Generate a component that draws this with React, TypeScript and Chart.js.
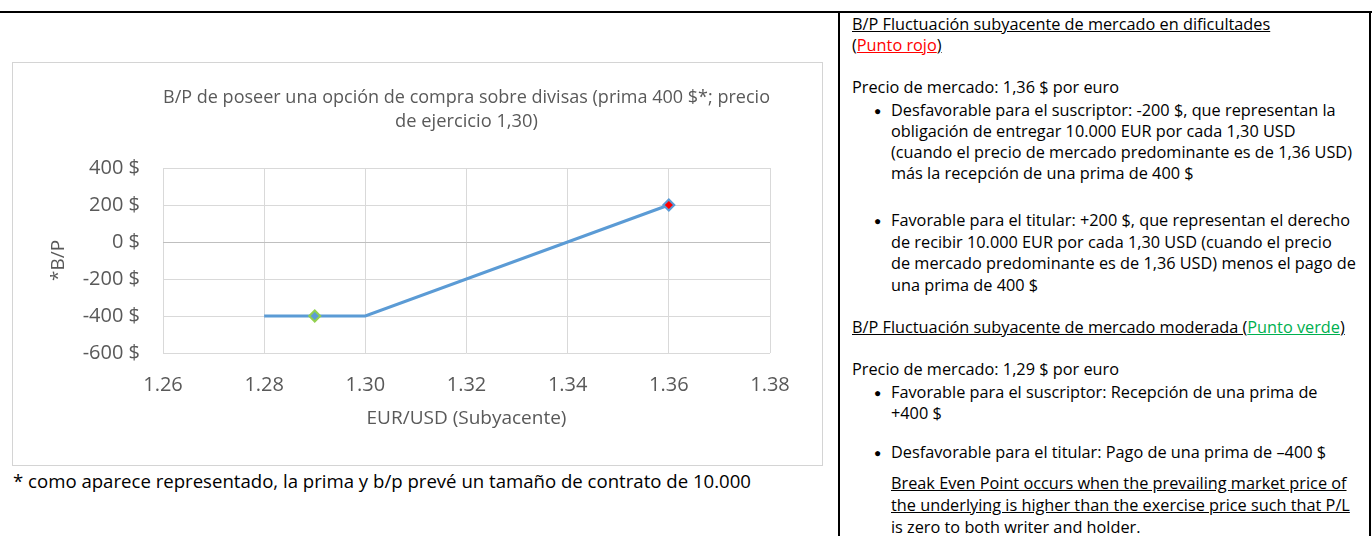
import React, { useEffect, useRef } from "react";
import { Chart, registerables } from "chart.js";

Chart.register(...registerables);

// ---- chart data ----
const underlyingPrices = [1.28, 1.29, 1.3, 1.36];
const profitLoss = [-400, -400, -400, 200];
const greenPointPrice = 1.29;
const redPointPrice = 1.36;
const xMin = 1.26;
const xMax = 1.38;
const xStep = 0.02;
const yMin = -600;
const yMax = 400;
const yStep = 200;
const chartTitle = [
  "B/P de poseer una opción de compra sobre divisas (prima 400 $*; precio",
  "de ejercicio 1,30)",
];
const xAxisTitle = "EUR/USD (Subyacente)";
const yAxisTitle = "*B/P";

const FONT = "'Open Sans', sans-serif";

function ChartBox() {
  const ref = useRef<HTMLCanvasElement | null>(null);
  useEffect(() => {
    if (!ref.current) return;
    const chart = new Chart(ref.current, {
      type: "line",
      data: {
        datasets: [
          {
            data: underlyingPrices.map((x, i) => ({ x, y: profitLoss[i] })),
            borderColor: "#5b9bd5",
            borderWidth: 3,
            tension: 0,
            fill: false,
            pointStyle: "rectRot",
            pointRadius: (ctx: any) => {
              const x = ctx.raw?.x;
              return x === greenPointPrice || x === redPointPrice ? 5.5 : 0;
            },
            pointHoverRadius: 0,
            pointBackgroundColor: (ctx: any) =>
              ctx.raw?.x === redPointPrice ? "#ff0000" : "#5b9bd5",
            pointBorderColor: (ctx: any) =>
              ctx.raw?.x === greenPointPrice ? "#92d050" : "#5b9bd5",
            pointBorderWidth: 2,
          },
        ],
      },
      options: {
        animation: false,
        responsive: false,
        maintainAspectRatio: false,
        layout: { padding: { left: 0, right: 51, top: 0, bottom: 0 } },
        plugins: {
          legend: { display: false },
          tooltip: { enabled: false },
          title: {
            display: true,
            fullSize: false,
            text: chartTitle,
            color: "#595959",
            font: { family: FONT, size: 18.3, weight: "normal", lineHeight: 24 / 18.3 },
            padding: { top: 22, bottom: 34 },
          },
        },
        scales: {
          x: {
            type: "linear",
            min: xMin,
            max: xMax,
            ticks: {
              stepSize: xStep,
              callback: (v: any) => Number(v).toFixed(2),
              color: "#595959",
              font: { family: FONT, size: 20 },
              padding: 20,
              maxRotation: 0,
            },
            grid: { color: "#d9d9d9", drawTicks: false, lineWidth: 1 },
            border: { display: false },
            title: {
              display: true,
              text: xAxisTitle,
              color: "#595959",
              font: { family: FONT, size: 19 },
              padding: { top: 0, bottom: 34 },
            },
            afterFit: (s: any) => {
              s.height = 111;
            },
          },
          y: {
            type: "linear",
            min: yMin,
            max: yMax,
            ticks: {
              stepSize: yStep,
              callback: (v: any) => `${v} $`,
              color: "#595959",
              font: { family: FONT, size: 20 },
              padding: 23,
            },
            grid: {
              color: (ctx: any) => (ctx.tick && ctx.tick.value === 0 ? "#bfbfbf" : "#d9d9d9"),
              drawTicks: false,
              lineWidth: 1,
            },
            border: { display: false },
            title: {
              display: true,
              text: yAxisTitle,
              color: "#595959",
              font: { family: FONT, size: 19 },
              padding: { top: 33, bottom: 0 },
            },
            afterFit: (s: any) => {
              s.width = 149;
            },
          },
        },
      } as any,
    });
    return () => chart.destroy();
  }, []);
  return (
    <div
      style={{
        position: "absolute",
        left: 12,
        top: 62,
        width: 809,
        height: 402,
        border: "1px solid #d4d4d4",
        background: "#fff",
      }}
    >
      <canvas
        ref={ref}
        width={807}
        height={400}
        style={{ position: "absolute", left: 1, top: 1, width: 807, height: 400 }}
      />
    </div>
  );
}

const TXT = 16.3;
const LH = 21;

function Line({
  x,
  y,
  children,
  size = TXT,
}: {
  x: number;
  y: number;
  children: React.ReactNode;
  size?: number;
}) {
  return (
    <div
      style={{
        position: "absolute",
        left: x,
        top: y - LH / 2,
        height: LH,
        lineHeight: LH + "px",
        fontSize: size,
        whiteSpace: "nowrap",
        color: "#000",
        fontFamily: FONT,
      }}
    >
      {children}
    </div>
  );
}

const U: React.CSSProperties = { textDecoration: "underline" };

function Bullet({ y }: { y: number }) {
  return (
    <div
      style={{
        position: "absolute",
        left: 874,
        top: y - LH / 2,
        lineHeight: LH + "px",
        fontSize: 12,
        fontFamily: FONT,
        color: "#000",
      }}
    >
      ●
    </div>
  );
}

export default function App() {
  const TX = 852;
  const BX = 891;
  return (
    <div
      style={{
        position: "fixed",
        left: 0,
        top: 0,
        width: 1372,
        height: 536,
        overflow: "hidden",
        background: "#fff",
        fontFamily: FONT,
      }}
    >
      {/* table borders */}
      <div style={{ position: "absolute", left: 0, top: 11, width: 1372, height: 2, background: "#000" }} />
      <div style={{ position: "absolute", left: 838, top: 11, width: 2, height: 525, background: "#000" }} />
      <div style={{ position: "absolute", left: 1369, top: 11, width: 2, height: 525, background: "#000" }} />

      <ChartBox />

      <Line x={13} y={480} size={18.6}>
        * como aparece representado, la prima y b/p prevé un tamaño de contrato de 10.000
      </Line>

      <Line x={TX} y={24}>
        <span style={U}>B/P Fluctuación subyacente de mercado en dificultades</span>
      </Line>
      <Line x={TX} y={45}>
        <span style={U}>(</span>
        <span style={{ ...U, color: "#ff0000" }}>Punto rojo</span>
        <span style={U}>)</span>
      </Line>
      <Line x={TX} y={87}>Precio de mercado: 1,36 $ por euro</Line>

      <Bullet y={110} />
      <Line x={BX} y={110}>Desfavorable para el suscriptor: -200 $, que representan la</Line>
      <Line x={BX} y={131}>obligación de entregar 10.000 EUR por cada 1,30 USD</Line>
      <Line x={BX} y={152}>(cuando el precio de mercado predominante es de 1,36 USD)</Line>
      <Line x={BX} y={173}>más la recepción de una prima de 400 $</Line>

      <Bullet y={220} />
      <Line x={BX} y={220}>Favorable para el titular: +200 $, que representan el derecho</Line>
      <Line x={BX} y={242}>de recibir 10.000 EUR por cada 1,30 USD (cuando el precio</Line>
      <Line x={BX} y={263}>de mercado predominante es de 1,36 USD) menos el pago de</Line>
      <Line x={BX} y={285}>una prima de 400 $</Line>

      <Line x={TX} y={327}>
        <span style={U}>B/P Fluctuación subyacente de mercado moderada (</span>
        <span style={{ ...U, color: "#00b050" }}>Punto verde</span>
        <span style={U}>)</span>
      </Line>
      <Line x={TX} y={369}>Precio de mercado: 1,29 $ por euro</Line>

      <Bullet y={392} />
      <Line x={BX} y={392}>Favorable para el suscriptor: Recepción de una prima de</Line>
      <Line x={BX} y={413}>+400 $</Line>

      <Bullet y={452} />
      <Line x={BX} y={452}>Desfavorable para el titular: Pago de una prima de –400 $</Line>

      <Line x={BX} y={483}>
        <span style={U}>Break Even Point occurs when the prevailing market price of</span>
      </Line>
      <Line x={BX} y={505}>
        <span style={U}>the underlying is higher than the exercise price such that P/L</span>
      </Line>
      <Line x={BX} y={527}>is zero to both writer and holder.</Line>
    </div>
  );
}
